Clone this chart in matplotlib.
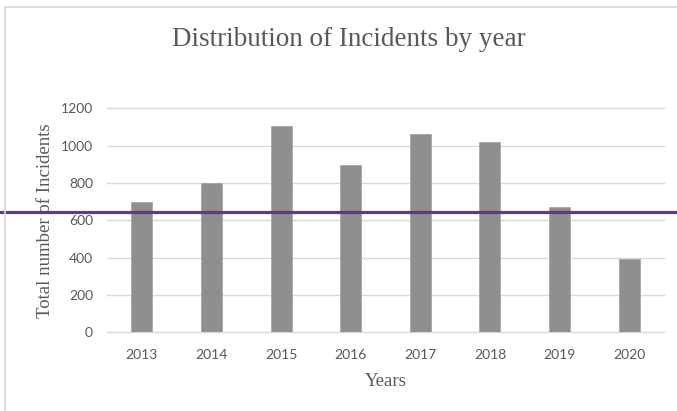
import matplotlib.pyplot as plt
from matplotlib.patches import Rectangle
from matplotlib.transforms import blended_transform_factory

# data
years = ["2013", "2014", "2015", "2016", "2017", "2018", "2019", "2020"]
incidents = [696, 798, 1103, 895, 1064, 1019, 671, 391]
y_ticks = [0, 200, 400, 600, 800, 1000, 1200]
reference_level = 643

W, H = 677, 411
fig = plt.figure(figsize=(W / 100, H / 100), dpi=100)
ax = fig.add_axes([107 / W, 1 - 332.3 / H, (664 - 107) / W, (332.3 - 108.3) / H])

serif = ["Liberation Serif", "DejaVu Serif"]
sans = ["Lato", "DejaVu Sans"]

ax.bar(range(len(years)), incidents, width=0.30, color="#8f8f8f",
       edgecolor="#a6a6a6", linewidth=0.6, zorder=3)
ax.set_xlim(-0.5, len(years) - 0.5)
ax.set_ylim(0, 1200)
ax.set_yticks(y_ticks)
ax.set_xticks(range(len(years)))
ax.set_xticklabels(years)

ax.grid(axis="y", color="#d9d9d9", linewidth=1.0, zorder=0)
for s in ax.spines.values():
    s.set_visible(False)
ax.tick_params(length=0, colors="#595959", labelsize=10, pad=12)
ax.tick_params(axis="y", pad=10)
for lbl in ax.get_xticklabels() + ax.get_yticklabels():
    lbl.set_family(sans)
# gridline at the top should not be clipped
for gl in ax.get_ygridlines():
    gl.set_clip_on(False)

ax.set_xlabel("Years", family=serif, fontsize=13.5, color="#595959", labelpad=9)
ax.set_ylabel("Total number of Incidents", family=serif, fontsize=13.5,
              color="#595959", labelpad=5)

fig.text(349 / W, 1 - 39 / H, "Distribution of Incidents by year", family=serif,
         fontsize=19.5, color="#595959", ha="center", va="center")

# purple reference line across the whole figure width
tr = blended_transform_factory(fig.transFigure, ax.transData)
ax.plot([0, 1], [reference_level, reference_level], transform=tr,
        color="#5f3b80", linewidth=2.3, clip_on=False, zorder=5)

# chart border (cropped on right and bottom)
fig.patches.append(Rectangle((5.5 / W, -0.1), 1.2, 1 + 0.1 - 7.5 / H,
                             transform=fig.transFigure, fill=False,
                             edgecolor="#d9d9d9", linewidth=1.2))

fig.savefig("out.png", dpi=100)
